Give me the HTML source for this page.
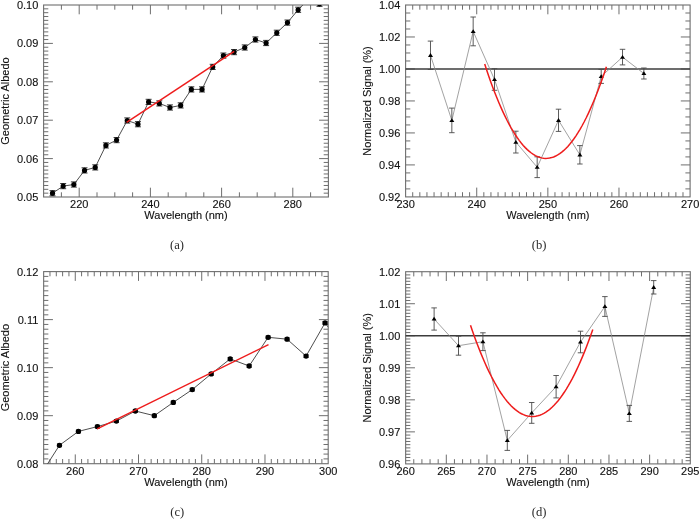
<!DOCTYPE html>
<html><head><meta charset="utf-8"><style>
html,body{margin:0;padding:0;background:#fff;width:700px;height:519px;overflow:hidden}
svg{display:block;will-change:transform}
text{font-family:"Liberation Sans",sans-serif;font-size:11px;fill:#111;stroke:#111;stroke-width:0.12px}
text.cap{font-family:"Liberation Serif",serif;font-size:12.6px;fill:#2a2a2a;stroke:none}
</style></head><body>
<svg width="700" height="519" viewBox="0 0 700 519">
<rect width="700" height="519" fill="#fff"/>
<clipPath id="ca"><rect x="43.6" y="5" width="284.8" height="192"/></clipPath>
<path d="M61.4 197v-4.7M61.4 5v4.7M79.2 197v-9.3M79.2 5v9.3M97 197v-4.7M97 5v4.7M114.8 197v-4.7M114.8 5v4.7M132.6 197v-4.7M132.6 5v4.7M150.4 197v-9.3M150.4 5v9.3M168.2 197v-4.7M168.2 5v4.7M186 197v-4.7M186 5v4.7M203.8 197v-4.7M203.8 5v4.7M221.6 197v-9.3M221.6 5v9.3M239.4 197v-4.7M239.4 5v4.7M257.2 197v-4.7M257.2 5v4.7M275 197v-4.7M275 5v4.7M292.8 197v-9.3M292.8 5v9.3M310.6 197v-4.7M310.6 5v4.7M43.6 193.16h4.7M328.4 193.16h-4.7M43.6 189.32h4.7M328.4 189.32h-4.7M43.6 185.48h4.7M328.4 185.48h-4.7M43.6 181.64h4.7M328.4 181.64h-4.7M43.6 177.8h4.7M328.4 177.8h-4.7M43.6 173.96h4.7M328.4 173.96h-4.7M43.6 170.12h4.7M328.4 170.12h-4.7M43.6 166.28h4.7M328.4 166.28h-4.7M43.6 162.44h4.7M328.4 162.44h-4.7M43.6 158.6h9.3M328.4 158.6h-9.3M43.6 154.76h4.7M328.4 154.76h-4.7M43.6 150.92h4.7M328.4 150.92h-4.7M43.6 147.08h4.7M328.4 147.08h-4.7M43.6 143.24h4.7M328.4 143.24h-4.7M43.6 139.4h4.7M328.4 139.4h-4.7M43.6 135.56h4.7M328.4 135.56h-4.7M43.6 131.72h4.7M328.4 131.72h-4.7M43.6 127.88h4.7M328.4 127.88h-4.7M43.6 124.04h4.7M328.4 124.04h-4.7M43.6 120.2h9.3M328.4 120.2h-9.3M43.6 116.36h4.7M328.4 116.36h-4.7M43.6 112.52h4.7M328.4 112.52h-4.7M43.6 108.68h4.7M328.4 108.68h-4.7M43.6 104.84h4.7M328.4 104.84h-4.7M43.6 101h4.7M328.4 101h-4.7M43.6 97.16h4.7M328.4 97.16h-4.7M43.6 93.32h4.7M328.4 93.32h-4.7M43.6 89.48h4.7M328.4 89.48h-4.7M43.6 85.64h4.7M328.4 85.64h-4.7M43.6 81.8h9.3M328.4 81.8h-9.3M43.6 77.96h4.7M328.4 77.96h-4.7M43.6 74.12h4.7M328.4 74.12h-4.7M43.6 70.28h4.7M328.4 70.28h-4.7M43.6 66.44h4.7M328.4 66.44h-4.7M43.6 62.6h4.7M328.4 62.6h-4.7M43.6 58.76h4.7M328.4 58.76h-4.7M43.6 54.92h4.7M328.4 54.92h-4.7M43.6 51.08h4.7M328.4 51.08h-4.7M43.6 47.24h4.7M328.4 47.24h-4.7M43.6 43.4h9.3M328.4 43.4h-9.3M43.6 39.56h4.7M328.4 39.56h-4.7M43.6 35.72h4.7M328.4 35.72h-4.7M43.6 31.88h4.7M328.4 31.88h-4.7M43.6 28.04h4.7M328.4 28.04h-4.7M43.6 24.2h4.7M328.4 24.2h-4.7M43.6 20.36h4.7M328.4 20.36h-4.7M43.6 16.52h4.7M328.4 16.52h-4.7M43.6 12.68h4.7M328.4 12.68h-4.7M43.6 8.84h4.7M328.4 8.84h-4.7" stroke="#6e6e6e" stroke-width="1" fill="none"/>
<rect x="43.6" y="5" width="284.8" height="192" stroke="#6e6e6e" stroke-width="1.1" fill="none"/>
<text x="79.2" y="208.3" text-anchor="middle">220</text>
<text x="150.4" y="208.3" text-anchor="middle">240</text>
<text x="221.6" y="208.3" text-anchor="middle">260</text>
<text x="292.8" y="208.3" text-anchor="middle">280</text>
<text x="38.3" y="200.9" text-anchor="end">0.05</text>
<text x="38.3" y="162.5" text-anchor="end">0.06</text>
<text x="38.3" y="124.1" text-anchor="end">0.07</text>
<text x="38.3" y="85.7" text-anchor="end">0.08</text>
<text x="38.3" y="47.3" text-anchor="end">0.09</text>
<text x="38.3" y="8.9" text-anchor="end">0.10</text>
<text x="186" y="219" text-anchor="middle">Wavelength (nm)</text>
<text transform="translate(9.2 101) rotate(-90)" text-anchor="middle">Geometric Albedo</text>
<g clip-path="url(#ca)">
<polyline points="52.5,193.2 63.18,186.1 73.86,184.5 84.54,170.4 95.22,167.4 105.9,145.4 116.58,140.1 127.26,120.5 137.94,124.2 148.62,101.9 159.3,103.4 169.98,107.5 180.66,105.4 191.34,89.4 202.02,89.4 212.7,66.9 223.38,55.6 234.06,52.1 244.74,47.5 255.42,39.5 266.1,43 276.78,32.8 287.46,22.6 298.14,9.8 308.82,-1.3 319.5,3.8 330.18,-6" fill="none" stroke="#3a3a3a" stroke-width="0.9"/>
<path d="M49.5 190.6h6M49.5 195.8h6M52.5 190.6v5.2M60.18 183.5h6M60.18 188.7h6M63.18 183.5v5.2M70.86 181.9h6M70.86 187.1h6M73.86 181.9v5.2M81.54 167.8h6M81.54 173h6M84.54 167.8v5.2M92.22 164.8h6M92.22 170h6M95.22 164.8v5.2M102.9 142.8h6M102.9 148h6M105.9 142.8v5.2M113.58 137.5h6M113.58 142.7h6M116.58 137.5v5.2M124.26 117.9h6M124.26 123.1h6M127.26 117.9v5.2M134.94 121.6h6M134.94 126.8h6M137.94 121.6v5.2M145.62 99.3h6M145.62 104.5h6M148.62 99.3v5.2M156.3 100.8h6M156.3 106h6M159.3 100.8v5.2M166.98 104.9h6M166.98 110.1h6M169.98 104.9v5.2M177.66 102.8h6M177.66 108h6M180.66 102.8v5.2M188.34 86.8h6M188.34 92h6M191.34 86.8v5.2M199.02 86.8h6M199.02 92h6M202.02 86.8v5.2M209.7 64.3h6M209.7 69.5h6M212.7 64.3v5.2M220.38 53h6M220.38 58.2h6M223.38 53v5.2M231.06 49.5h6M231.06 54.7h6M234.06 49.5v5.2M241.74 44.9h6M241.74 50.1h6M244.74 44.9v5.2M252.42 36.9h6M252.42 42.1h6M255.42 36.9v5.2M263.1 40.4h6M263.1 45.6h6M266.1 40.4v5.2M273.78 30.2h6M273.78 35.4h6M276.78 30.2v5.2M284.46 20h6M284.46 25.2h6M287.46 20v5.2M295.14 7.2h6M295.14 12.4h6M298.14 7.2v5.2M305.82 -3.9h6M305.82 1.3h6M308.82 -3.9v5.2M316.5 1.2h6M316.5 6.4h6M319.5 1.2v5.2M327.18 -8.6h6M327.18 -3.4h6M330.18 -8.6v5.2" stroke="#222" stroke-width="0.9" fill="none"/>
<circle cx="52.5" cy="193.2" r="2.6" fill="#000"/>
<circle cx="63.18" cy="186.1" r="2.6" fill="#000"/>
<circle cx="73.86" cy="184.5" r="2.6" fill="#000"/>
<circle cx="84.54" cy="170.4" r="2.6" fill="#000"/>
<circle cx="95.22" cy="167.4" r="2.6" fill="#000"/>
<circle cx="105.9" cy="145.4" r="2.6" fill="#000"/>
<circle cx="116.58" cy="140.1" r="2.6" fill="#000"/>
<circle cx="127.26" cy="120.5" r="2.6" fill="#000"/>
<circle cx="137.94" cy="124.2" r="2.6" fill="#000"/>
<circle cx="148.62" cy="101.9" r="2.6" fill="#000"/>
<circle cx="159.3" cy="103.4" r="2.6" fill="#000"/>
<circle cx="169.98" cy="107.5" r="2.6" fill="#000"/>
<circle cx="180.66" cy="105.4" r="2.6" fill="#000"/>
<circle cx="191.34" cy="89.4" r="2.6" fill="#000"/>
<circle cx="202.02" cy="89.4" r="2.6" fill="#000"/>
<circle cx="212.7" cy="66.9" r="2.6" fill="#000"/>
<circle cx="223.38" cy="55.6" r="2.6" fill="#000"/>
<circle cx="234.06" cy="52.1" r="2.6" fill="#000"/>
<circle cx="244.74" cy="47.5" r="2.6" fill="#000"/>
<circle cx="255.42" cy="39.5" r="2.6" fill="#000"/>
<circle cx="266.1" cy="43" r="2.6" fill="#000"/>
<circle cx="276.78" cy="32.8" r="2.6" fill="#000"/>
<circle cx="287.46" cy="22.6" r="2.6" fill="#000"/>
<circle cx="298.14" cy="9.8" r="2.6" fill="#000"/>
<circle cx="308.82" cy="-1.3" r="2.6" fill="#000"/>
<circle cx="319.5" cy="3.8" r="2.6" fill="#000"/>
<circle cx="330.18" cy="-6" r="2.6" fill="#000"/>
</g>
<polyline points="126.6,122.3 234.2,51.4" fill="none" stroke="#ee1c1c" stroke-width="1.5"/>
<clipPath id="cb"><rect x="405.6" y="5" width="284.5" height="191.9"/></clipPath>
<path d="M412.71 196.9v-4.7M412.71 5v4.7M419.83 196.9v-4.7M419.83 5v4.7M426.94 196.9v-4.7M426.94 5v4.7M434.05 196.9v-4.7M434.05 5v4.7M441.16 196.9v-4.7M441.16 5v4.7M448.28 196.9v-4.7M448.28 5v4.7M455.39 196.9v-4.7M455.39 5v4.7M462.5 196.9v-4.7M462.5 5v4.7M469.61 196.9v-4.7M469.61 5v4.7M476.73 196.9v-9.3M476.73 5v9.3M483.84 196.9v-4.7M483.84 5v4.7M490.95 196.9v-4.7M490.95 5v4.7M498.06 196.9v-4.7M498.06 5v4.7M505.18 196.9v-4.7M505.18 5v4.7M512.29 196.9v-4.7M512.29 5v4.7M519.4 196.9v-4.7M519.4 5v4.7M526.51 196.9v-4.7M526.51 5v4.7M533.62 196.9v-4.7M533.62 5v4.7M540.74 196.9v-4.7M540.74 5v4.7M547.85 196.9v-9.3M547.85 5v9.3M554.96 196.9v-4.7M554.96 5v4.7M562.08 196.9v-4.7M562.08 5v4.7M569.19 196.9v-4.7M569.19 5v4.7M576.3 196.9v-4.7M576.3 5v4.7M583.41 196.9v-4.7M583.41 5v4.7M590.53 196.9v-4.7M590.53 5v4.7M597.64 196.9v-4.7M597.64 5v4.7M604.75 196.9v-4.7M604.75 5v4.7M611.86 196.9v-4.7M611.86 5v4.7M618.98 196.9v-9.3M618.98 5v9.3M626.09 196.9v-4.7M626.09 5v4.7M633.2 196.9v-4.7M633.2 5v4.7M640.31 196.9v-4.7M640.31 5v4.7M647.42 196.9v-4.7M647.42 5v4.7M654.54 196.9v-4.7M654.54 5v4.7M661.65 196.9v-4.7M661.65 5v4.7M668.76 196.9v-4.7M668.76 5v4.7M675.88 196.9v-4.7M675.88 5v4.7M682.99 196.9v-4.7M682.99 5v4.7M405.6 188.9h4.7M690.1 188.9h-4.7M405.6 180.91h4.7M690.1 180.91h-4.7M405.6 172.91h4.7M690.1 172.91h-4.7M405.6 164.92h9.3M690.1 164.92h-9.3M405.6 156.92h4.7M690.1 156.92h-4.7M405.6 148.92h4.7M690.1 148.92h-4.7M405.6 140.93h4.7M690.1 140.93h-4.7M405.6 132.93h9.3M690.1 132.93h-9.3M405.6 124.94h4.7M690.1 124.94h-4.7M405.6 116.94h4.7M690.1 116.94h-4.7M405.6 108.95h4.7M690.1 108.95h-4.7M405.6 100.95h9.3M690.1 100.95h-9.3M405.6 92.95h4.7M690.1 92.95h-4.7M405.6 84.96h4.7M690.1 84.96h-4.7M405.6 76.96h4.7M690.1 76.96h-4.7M405.6 68.97h9.3M690.1 68.97h-9.3M405.6 60.97h4.7M690.1 60.97h-4.7M405.6 52.98h4.7M690.1 52.98h-4.7M405.6 44.98h4.7M690.1 44.98h-4.7M405.6 36.98h9.3M690.1 36.98h-9.3M405.6 28.99h4.7M690.1 28.99h-4.7M405.6 20.99h4.7M690.1 20.99h-4.7M405.6 13h4.7M690.1 13h-4.7" stroke="#6e6e6e" stroke-width="1" fill="none"/>
<rect x="405.6" y="5" width="284.5" height="191.9" stroke="#6e6e6e" stroke-width="1.1" fill="none"/>
<text x="405.6" y="208.2" text-anchor="middle">230</text>
<text x="476.73" y="208.2" text-anchor="middle">240</text>
<text x="547.85" y="208.2" text-anchor="middle">250</text>
<text x="618.98" y="208.2" text-anchor="middle">260</text>
<text x="690.1" y="208.2" text-anchor="middle">270</text>
<text x="400.3" y="200.8" text-anchor="end">0.92</text>
<text x="400.3" y="168.82" text-anchor="end">0.94</text>
<text x="400.3" y="136.83" text-anchor="end">0.96</text>
<text x="400.3" y="104.85" text-anchor="end">0.98</text>
<text x="400.3" y="72.87" text-anchor="end">1.00</text>
<text x="400.3" y="40.88" text-anchor="end">1.02</text>
<text x="400.3" y="8.9" text-anchor="end">1.04</text>
<text x="547.85" y="218.9" text-anchor="middle">Wavelength (nm)</text>
<text transform="translate(371 100.95) rotate(-90)" text-anchor="middle">Normalized Signal (%)</text>
<path d="M405.6 68.97H690.1" stroke="#3c3c3c" stroke-width="1.5"/>
<g clip-path="url(#cb)">
<polyline points="430.49,55.3 451.83,120.4 473.17,31.4 494.51,79.5 515.84,142.1 537.18,167.2 558.52,120.3 579.86,154.8 601.19,76.4 622.53,57.1 643.87,73.5" fill="none" stroke="#8a8a8a" stroke-width="0.8"/>
<path d="M427.74 41.1h5.5M427.74 69.5h5.5M430.49 41.1v28.4M449.08 108.1h5.5M449.08 132.7h5.5M451.83 108.1v24.6M470.42 17h5.5M470.42 45.8h5.5M473.17 17v28.8M491.76 68.7h5.5M491.76 90.3h5.5M494.51 68.7v21.6M513.09 131.2h5.5M513.09 153h5.5M515.84 131.2v21.8M534.43 156.8h5.5M534.43 177.6h5.5M537.18 156.8v20.8M555.77 109.2h5.5M555.77 131.4h5.5M558.52 109.2v22.2M577.11 145.6h5.5M577.11 164h5.5M579.86 145.6v18.4M598.44 69.4h5.5M598.44 83.4h5.5M601.19 69.4v14M619.78 49.3h5.5M619.78 64.9h5.5M622.53 49.3v15.6M641.12 68h5.5M641.12 79h5.5M643.87 68v11" stroke="#4a4a4a" stroke-width="0.9" fill="none"/>
<path d="M430.49 53.1l2.5 3.8h-5z" fill="#000"/>
<path d="M451.83 118.2l2.5 3.8h-5z" fill="#000"/>
<path d="M473.17 29.2l2.5 3.8h-5z" fill="#000"/>
<path d="M494.51 77.3l2.5 3.8h-5z" fill="#000"/>
<path d="M515.84 139.9l2.5 3.8h-5z" fill="#000"/>
<path d="M537.18 165l2.5 3.8h-5z" fill="#000"/>
<path d="M558.52 118.1l2.5 3.8h-5z" fill="#000"/>
<path d="M579.86 152.6l2.5 3.8h-5z" fill="#000"/>
<path d="M601.19 74.2l2.5 3.8h-5z" fill="#000"/>
<path d="M622.53 54.9l2.5 3.8h-5z" fill="#000"/>
<path d="M643.87 71.3l2.5 3.8h-5z" fill="#000"/>
</g>
<polyline points="484.7,64.08 486.73,70.22 488.76,76.15 490.78,81.88 492.81,87.4 494.84,92.71 496.87,97.81 498.9,102.71 500.93,107.41 502.95,111.89 504.98,116.17 507.01,120.25 509.04,124.11 511.07,127.77 513.1,131.23 515.12,134.47 517.15,137.51 519.18,140.35 521.21,142.97 523.24,145.4 525.27,147.61 527.29,149.62 529.32,151.42 531.35,153.01 533.38,154.4 535.41,155.58 537.44,156.56 539.47,157.33 541.49,157.89 543.52,158.25 545.55,158.39 547.58,158.34 549.61,158.07 551.63,157.6 553.66,156.93 555.69,156.04 557.72,154.95 559.75,153.66 561.78,152.15 563.8,150.44 565.83,148.53 567.86,146.4 569.89,144.07 571.92,141.54 573.95,138.8 575.98,135.85 578,132.69 580.03,129.33 582.06,125.76 584.09,121.99 586.12,118.01 588.14,113.82 590.17,109.42 592.2,104.82 594.23,100.01 596.26,95 598.29,89.78 600.31,84.35 602.34,78.72 604.37,72.88 606.4,66.83" fill="none" stroke="#ee1c1c" stroke-width="1.5"/>
<clipPath id="cc"><rect x="43.65" y="271.6" width="284.55" height="192.1"/></clipPath>
<path d="M49.97 463.7v-4.7M49.97 271.6v4.7M56.3 463.7v-4.7M56.3 271.6v4.7M62.62 463.7v-4.7M62.62 271.6v4.7M68.94 463.7v-4.7M68.94 271.6v4.7M75.27 463.7v-9.3M75.27 271.6v9.3M81.59 463.7v-4.7M81.59 271.6v4.7M87.91 463.7v-4.7M87.91 271.6v4.7M94.24 463.7v-4.7M94.24 271.6v4.7M100.56 463.7v-4.7M100.56 271.6v4.7M106.88 463.7v-4.7M106.88 271.6v4.7M113.21 463.7v-4.7M113.21 271.6v4.7M119.53 463.7v-4.7M119.53 271.6v4.7M125.85 463.7v-4.7M125.85 271.6v4.7M132.18 463.7v-4.7M132.18 271.6v4.7M138.5 463.7v-9.3M138.5 271.6v9.3M144.82 463.7v-4.7M144.82 271.6v4.7M151.15 463.7v-4.7M151.15 271.6v4.7M157.47 463.7v-4.7M157.47 271.6v4.7M163.79 463.7v-4.7M163.79 271.6v4.7M170.12 463.7v-4.7M170.12 271.6v4.7M176.44 463.7v-4.7M176.44 271.6v4.7M182.76 463.7v-4.7M182.76 271.6v4.7M189.09 463.7v-4.7M189.09 271.6v4.7M195.41 463.7v-4.7M195.41 271.6v4.7M201.73 463.7v-9.3M201.73 271.6v9.3M208.06 463.7v-4.7M208.06 271.6v4.7M214.38 463.7v-4.7M214.38 271.6v4.7M220.7 463.7v-4.7M220.7 271.6v4.7M227.03 463.7v-4.7M227.03 271.6v4.7M233.35 463.7v-4.7M233.35 271.6v4.7M239.67 463.7v-4.7M239.67 271.6v4.7M246 463.7v-4.7M246 271.6v4.7M252.32 463.7v-4.7M252.32 271.6v4.7M258.64 463.7v-4.7M258.64 271.6v4.7M264.97 463.7v-9.3M264.97 271.6v9.3M271.29 463.7v-4.7M271.29 271.6v4.7M277.61 463.7v-4.7M277.61 271.6v4.7M283.94 463.7v-4.7M283.94 271.6v4.7M290.26 463.7v-4.7M290.26 271.6v4.7M296.58 463.7v-4.7M296.58 271.6v4.7M302.91 463.7v-4.7M302.91 271.6v4.7M309.23 463.7v-4.7M309.23 271.6v4.7M315.55 463.7v-4.7M315.55 271.6v4.7M321.88 463.7v-4.7M321.88 271.6v4.7M43.65 458.9h4.7M328.2 458.9h-4.7M43.65 454.09h4.7M328.2 454.09h-4.7M43.65 449.29h4.7M328.2 449.29h-4.7M43.65 444.49h4.7M328.2 444.49h-4.7M43.65 439.69h4.7M328.2 439.69h-4.7M43.65 434.88h4.7M328.2 434.88h-4.7M43.65 430.08h4.7M328.2 430.08h-4.7M43.65 425.28h4.7M328.2 425.28h-4.7M43.65 420.48h4.7M328.2 420.48h-4.7M43.65 415.68h9.3M328.2 415.68h-9.3M43.65 410.87h4.7M328.2 410.87h-4.7M43.65 406.07h4.7M328.2 406.07h-4.7M43.65 401.27h4.7M328.2 401.27h-4.7M43.65 396.47h4.7M328.2 396.47h-4.7M43.65 391.66h4.7M328.2 391.66h-4.7M43.65 386.86h4.7M328.2 386.86h-4.7M43.65 382.06h4.7M328.2 382.06h-4.7M43.65 377.25h4.7M328.2 377.25h-4.7M43.65 372.45h4.7M328.2 372.45h-4.7M43.65 367.65h9.3M328.2 367.65h-9.3M43.65 362.85h4.7M328.2 362.85h-4.7M43.65 358.04h4.7M328.2 358.04h-4.7M43.65 353.24h4.7M328.2 353.24h-4.7M43.65 348.44h4.7M328.2 348.44h-4.7M43.65 343.64h4.7M328.2 343.64h-4.7M43.65 338.83h4.7M328.2 338.83h-4.7M43.65 334.03h4.7M328.2 334.03h-4.7M43.65 329.23h4.7M328.2 329.23h-4.7M43.65 324.43h4.7M328.2 324.43h-4.7M43.65 319.62h9.3M328.2 319.62h-9.3M43.65 314.82h4.7M328.2 314.82h-4.7M43.65 310.02h4.7M328.2 310.02h-4.7M43.65 305.22h4.7M328.2 305.22h-4.7M43.65 300.41h4.7M328.2 300.41h-4.7M43.65 295.61h4.7M328.2 295.61h-4.7M43.65 290.81h4.7M328.2 290.81h-4.7M43.65 286.01h4.7M328.2 286.01h-4.7M43.65 281.21h4.7M328.2 281.21h-4.7M43.65 276.4h4.7M328.2 276.4h-4.7" stroke="#6e6e6e" stroke-width="1" fill="none"/>
<rect x="43.65" y="271.6" width="284.55" height="192.1" stroke="#6e6e6e" stroke-width="1.1" fill="none"/>
<text x="75.27" y="475" text-anchor="middle">260</text>
<text x="138.5" y="475" text-anchor="middle">270</text>
<text x="201.73" y="475" text-anchor="middle">280</text>
<text x="264.97" y="475" text-anchor="middle">290</text>
<text x="328.2" y="475" text-anchor="middle">300</text>
<text x="38.35" y="467.6" text-anchor="end">0.08</text>
<text x="38.35" y="419.57" text-anchor="end">0.09</text>
<text x="38.35" y="371.55" text-anchor="end">0.10</text>
<text x="38.35" y="323.52" text-anchor="end">0.11</text>
<text x="38.35" y="275.5" text-anchor="end">0.12</text>
<text x="185.92" y="485.7" text-anchor="middle">Wavelength (nm)</text>
<text transform="translate(9.2 367.65) rotate(-90)" text-anchor="middle">Geometric Albedo</text>
<g clip-path="url(#cc)">
<polyline points="40.49,474.9 59.46,445.3 78.43,431.4 97.4,426.6 116.37,421.1 135.34,411 154.31,415.7 173.28,402.4 192.25,389.6 211.22,373.9 230.19,358.9 249.16,366 268.13,337.3 287.1,339.2 306.07,356.1 325.04,322.9 344.01,347.6" fill="none" stroke="#3a3a3a" stroke-width="0.9"/>
<path d="M37.99 473.5h5M37.99 476.3h5M40.49 473.5v2.8M56.96 443.9h5M56.96 446.7h5M59.46 443.9v2.8M75.93 430h5M75.93 432.8h5M78.43 430v2.8M94.9 425.2h5M94.9 428h5M97.4 425.2v2.8M113.87 419.7h5M113.87 422.5h5M116.37 419.7v2.8M132.84 409.6h5M132.84 412.4h5M135.34 409.6v2.8M151.81 414.3h5M151.81 417.1h5M154.31 414.3v2.8M170.78 401h5M170.78 403.8h5M173.28 401v2.8M189.75 388.2h5M189.75 391h5M192.25 388.2v2.8M208.72 372.5h5M208.72 375.3h5M211.22 372.5v2.8M227.69 357.5h5M227.69 360.3h5M230.19 357.5v2.8M246.66 364.6h5M246.66 367.4h5M249.16 364.6v2.8M265.63 335.9h5M265.63 338.7h5M268.13 335.9v2.8M284.6 337.8h5M284.6 340.6h5M287.1 337.8v2.8M303.57 354.7h5M303.57 357.5h5M306.07 354.7v2.8M322.54 321.5h5M322.54 324.3h5M325.04 321.5v2.8M341.51 346.2h5M341.51 349h5M344.01 346.2v2.8" stroke="#222" stroke-width="0.9" fill="none"/>
<circle cx="40.49" cy="474.9" r="2.65" fill="#000"/>
<circle cx="59.46" cy="445.3" r="2.65" fill="#000"/>
<circle cx="78.43" cy="431.4" r="2.65" fill="#000"/>
<circle cx="97.4" cy="426.6" r="2.65" fill="#000"/>
<circle cx="116.37" cy="421.1" r="2.65" fill="#000"/>
<circle cx="135.34" cy="411" r="2.65" fill="#000"/>
<circle cx="154.31" cy="415.7" r="2.65" fill="#000"/>
<circle cx="173.28" cy="402.4" r="2.65" fill="#000"/>
<circle cx="192.25" cy="389.6" r="2.65" fill="#000"/>
<circle cx="211.22" cy="373.9" r="2.65" fill="#000"/>
<circle cx="230.19" cy="358.9" r="2.65" fill="#000"/>
<circle cx="249.16" cy="366" r="2.65" fill="#000"/>
<circle cx="268.13" cy="337.3" r="2.65" fill="#000"/>
<circle cx="287.1" cy="339.2" r="2.65" fill="#000"/>
<circle cx="306.07" cy="356.1" r="2.65" fill="#000"/>
<circle cx="325.04" cy="322.9" r="2.65" fill="#000"/>
<circle cx="344.01" cy="347.6" r="2.65" fill="#000"/>
</g>
<polyline points="97.2,428.8 268.5,344.6" fill="none" stroke="#ee1c1c" stroke-width="1.5"/>
<clipPath id="cd"><rect x="405.65" y="271.7" width="284.65" height="192.2"/></clipPath>
<path d="M413.78 463.9v-4.7M413.78 271.7v4.7M421.92 463.9v-4.7M421.92 271.7v4.7M430.05 463.9v-4.7M430.05 271.7v4.7M438.18 463.9v-4.7M438.18 271.7v4.7M446.31 463.9v-9.3M446.31 271.7v9.3M454.45 463.9v-4.7M454.45 271.7v4.7M462.58 463.9v-4.7M462.58 271.7v4.7M470.71 463.9v-4.7M470.71 271.7v4.7M478.85 463.9v-4.7M478.85 271.7v4.7M486.98 463.9v-9.3M486.98 271.7v9.3M495.11 463.9v-4.7M495.11 271.7v4.7M503.24 463.9v-4.7M503.24 271.7v4.7M511.38 463.9v-4.7M511.38 271.7v4.7M519.51 463.9v-4.7M519.51 271.7v4.7M527.64 463.9v-9.3M527.64 271.7v9.3M535.78 463.9v-4.7M535.78 271.7v4.7M543.91 463.9v-4.7M543.91 271.7v4.7M552.04 463.9v-4.7M552.04 271.7v4.7M560.17 463.9v-4.7M560.17 271.7v4.7M568.31 463.9v-9.3M568.31 271.7v9.3M576.44 463.9v-4.7M576.44 271.7v4.7M584.57 463.9v-4.7M584.57 271.7v4.7M592.71 463.9v-4.7M592.71 271.7v4.7M600.84 463.9v-4.7M600.84 271.7v4.7M608.97 463.9v-9.3M608.97 271.7v9.3M617.1 463.9v-4.7M617.1 271.7v4.7M625.24 463.9v-4.7M625.24 271.7v4.7M633.37 463.9v-4.7M633.37 271.7v4.7M641.5 463.9v-4.7M641.5 271.7v4.7M649.64 463.9v-9.3M649.64 271.7v9.3M657.77 463.9v-4.7M657.77 271.7v4.7M665.9 463.9v-4.7M665.9 271.7v4.7M674.03 463.9v-4.7M674.03 271.7v4.7M682.17 463.9v-4.7M682.17 271.7v4.7M405.65 460.7h4.7M690.3 460.7h-4.7M405.65 457.49h4.7M690.3 457.49h-4.7M405.65 454.29h4.7M690.3 454.29h-4.7M405.65 451.09h4.7M690.3 451.09h-4.7M405.65 447.88h4.7M690.3 447.88h-4.7M405.65 444.68h4.7M690.3 444.68h-4.7M405.65 441.48h4.7M690.3 441.48h-4.7M405.65 438.27h4.7M690.3 438.27h-4.7M405.65 435.07h4.7M690.3 435.07h-4.7M405.65 431.87h9.3M690.3 431.87h-9.3M405.65 428.66h4.7M690.3 428.66h-4.7M405.65 425.46h4.7M690.3 425.46h-4.7M405.65 422.26h4.7M690.3 422.26h-4.7M405.65 419.05h4.7M690.3 419.05h-4.7M405.65 415.85h4.7M690.3 415.85h-4.7M405.65 412.65h4.7M690.3 412.65h-4.7M405.65 409.44h4.7M690.3 409.44h-4.7M405.65 406.24h4.7M690.3 406.24h-4.7M405.65 403.04h4.7M690.3 403.04h-4.7M405.65 399.83h9.3M690.3 399.83h-9.3M405.65 396.63h4.7M690.3 396.63h-4.7M405.65 393.43h4.7M690.3 393.43h-4.7M405.65 390.22h4.7M690.3 390.22h-4.7M405.65 387.02h4.7M690.3 387.02h-4.7M405.65 383.82h4.7M690.3 383.82h-4.7M405.65 380.61h4.7M690.3 380.61h-4.7M405.65 377.41h4.7M690.3 377.41h-4.7M405.65 374.21h4.7M690.3 374.21h-4.7M405.65 371h4.7M690.3 371h-4.7M405.65 367.8h9.3M690.3 367.8h-9.3M405.65 364.6h4.7M690.3 364.6h-4.7M405.65 361.39h4.7M690.3 361.39h-4.7M405.65 358.19h4.7M690.3 358.19h-4.7M405.65 354.99h4.7M690.3 354.99h-4.7M405.65 351.78h4.7M690.3 351.78h-4.7M405.65 348.58h4.7M690.3 348.58h-4.7M405.65 345.38h4.7M690.3 345.38h-4.7M405.65 342.17h4.7M690.3 342.17h-4.7M405.65 338.97h4.7M690.3 338.97h-4.7M405.65 335.77h9.3M690.3 335.77h-9.3M405.65 332.56h4.7M690.3 332.56h-4.7M405.65 329.36h4.7M690.3 329.36h-4.7M405.65 326.16h4.7M690.3 326.16h-4.7M405.65 322.95h4.7M690.3 322.95h-4.7M405.65 319.75h4.7M690.3 319.75h-4.7M405.65 316.55h4.7M690.3 316.55h-4.7M405.65 313.34h4.7M690.3 313.34h-4.7M405.65 310.14h4.7M690.3 310.14h-4.7M405.65 306.94h4.7M690.3 306.94h-4.7M405.65 303.73h9.3M690.3 303.73h-9.3M405.65 300.53h4.7M690.3 300.53h-4.7M405.65 297.33h4.7M690.3 297.33h-4.7M405.65 294.12h4.7M690.3 294.12h-4.7M405.65 290.92h4.7M690.3 290.92h-4.7M405.65 287.72h4.7M690.3 287.72h-4.7M405.65 284.51h4.7M690.3 284.51h-4.7M405.65 281.31h4.7M690.3 281.31h-4.7M405.65 278.11h4.7M690.3 278.11h-4.7M405.65 274.9h4.7M690.3 274.9h-4.7" stroke="#6e6e6e" stroke-width="1" fill="none"/>
<rect x="405.65" y="271.7" width="284.65" height="192.2" stroke="#6e6e6e" stroke-width="1.1" fill="none"/>
<text x="405.65" y="475.2" text-anchor="middle">260</text>
<text x="446.31" y="475.2" text-anchor="middle">265</text>
<text x="486.98" y="475.2" text-anchor="middle">270</text>
<text x="527.64" y="475.2" text-anchor="middle">275</text>
<text x="568.31" y="475.2" text-anchor="middle">280</text>
<text x="608.97" y="475.2" text-anchor="middle">285</text>
<text x="649.64" y="475.2" text-anchor="middle">290</text>
<text x="690.3" y="475.2" text-anchor="middle">295</text>
<text x="400.35" y="467.8" text-anchor="end">0.96</text>
<text x="400.35" y="435.77" text-anchor="end">0.97</text>
<text x="400.35" y="403.73" text-anchor="end">0.98</text>
<text x="400.35" y="371.7" text-anchor="end">0.99</text>
<text x="400.35" y="339.67" text-anchor="end">1.00</text>
<text x="400.35" y="307.63" text-anchor="end">1.01</text>
<text x="400.35" y="275.6" text-anchor="end">1.02</text>
<text x="547.97" y="485.9" text-anchor="middle">Wavelength (nm)</text>
<text transform="translate(371 367.8) rotate(-90)" text-anchor="middle">Normalized Signal (%)</text>
<path d="M405.65 335.77H690.3" stroke="#3c3c3c" stroke-width="1.5"/>
<g clip-path="url(#cd)">
<polyline points="434.11,319 458.51,345.7 482.91,341.7 507.31,440.4 531.71,412.9 556.11,386.7 580.51,342 604.9,306.5 629.3,413.4 653.7,287.3" fill="none" stroke="#8a8a8a" stroke-width="0.8"/>
<path d="M431.36 307.9h5.5M431.36 330.1h5.5M434.11 307.9v22.2M455.76 336.2h5.5M455.76 355.2h5.5M458.51 336.2v19M480.16 332.8h5.5M480.16 350.6h5.5M482.91 332.8v17.8M504.56 430.4h5.5M504.56 450.4h5.5M507.31 430.4v20M528.96 402.5h5.5M528.96 423.3h5.5M531.71 402.5v20.8M553.36 375.5h5.5M553.36 397.9h5.5M556.11 375.5v22.4M577.76 331.2h5.5M577.76 352.8h5.5M580.51 331.2v21.6M602.15 296.6h5.5M602.15 316.4h5.5M604.9 296.6v19.8M626.55 405.4h5.5M626.55 421.4h5.5M629.3 405.4v16M650.95 280.6h5.5M650.95 294h5.5M653.7 280.6v13.4" stroke="#4a4a4a" stroke-width="0.9" fill="none"/>
<path d="M434.11 316.8l2.5 3.8h-5z" fill="#000"/>
<path d="M458.51 343.5l2.5 3.8h-5z" fill="#000"/>
<path d="M482.91 339.5l2.5 3.8h-5z" fill="#000"/>
<path d="M507.31 438.2l2.5 3.8h-5z" fill="#000"/>
<path d="M531.71 410.7l2.5 3.8h-5z" fill="#000"/>
<path d="M556.11 384.5l2.5 3.8h-5z" fill="#000"/>
<path d="M580.51 339.8l2.5 3.8h-5z" fill="#000"/>
<path d="M604.9 304.3l2.5 3.8h-5z" fill="#000"/>
<path d="M629.3 411.2l2.5 3.8h-5z" fill="#000"/>
<path d="M653.7 285.1l2.5 3.8h-5z" fill="#000"/>
</g>
<polyline points="470.5,325.31 472.54,331.23 474.58,336.94 476.62,342.46 478.65,347.78 480.69,352.9 482.73,357.82 484.77,362.54 486.81,367.07 488.84,371.4 490.88,375.53 492.92,379.46 494.96,383.19 497,386.73 499.04,390.07 501.07,393.21 503.11,396.15 505.15,398.89 507.19,401.44 509.23,403.78 511.27,405.93 513.3,407.88 515.34,409.64 517.38,411.19 519.42,412.55 521.46,413.71 523.5,414.67 525.53,415.43 527.57,415.99 529.61,416.36 531.65,416.53 533.69,416.5 535.73,416.27 537.76,415.84 539.8,415.22 541.84,414.4 543.88,413.38 545.92,412.16 547.96,410.74 550,409.13 552.03,407.31 554.07,405.3 556.11,403.09 558.15,400.69 560.19,398.08 562.22,395.28 564.26,392.28 566.3,389.08 568.34,385.68 570.38,382.08 572.42,378.29 574.45,374.3 576.49,370.11 578.53,365.72 580.57,361.13 582.61,356.35 584.65,351.36 586.68,346.18 588.72,340.8 590.76,335.23 592.8,329.45" fill="none" stroke="#ee1c1c" stroke-width="1.5"/>
<text x="177" y="249" text-anchor="middle" class="cap">(a)</text>
<text x="539.1" y="249" text-anchor="middle" class="cap">(b)</text>
<text x="177.3" y="515.7" text-anchor="middle" class="cap">(c)</text>
<text x="539.1" y="515.7" text-anchor="middle" class="cap">(d)</text>
</svg>
</body></html>
